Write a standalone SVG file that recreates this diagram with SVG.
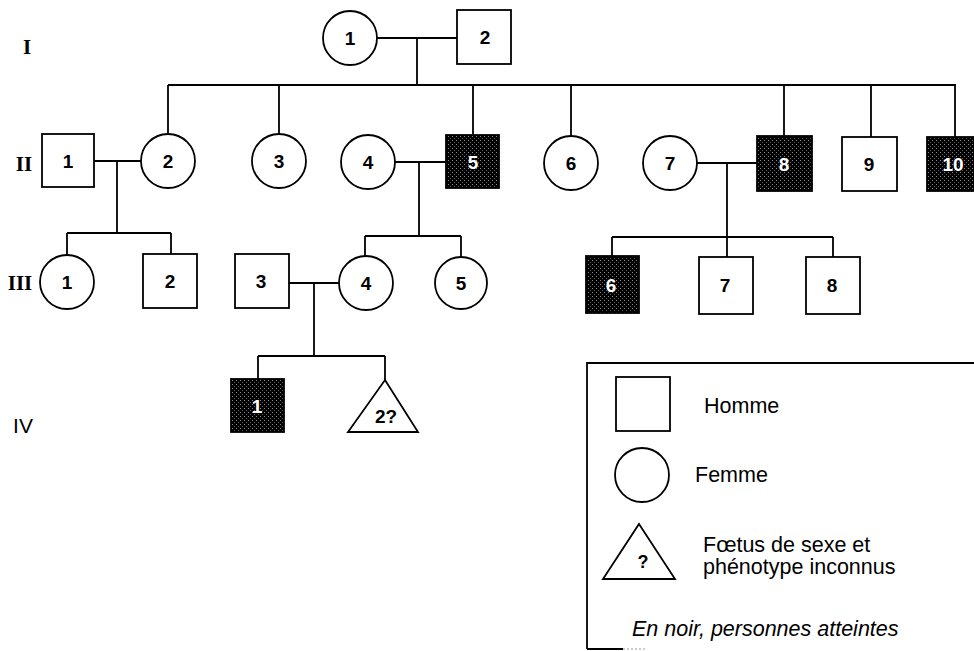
<svg xmlns="http://www.w3.org/2000/svg" width="974" height="651" viewBox="0 0 974 651">
<style>
.ln{stroke:#000;stroke-width:1.8;fill:none}
.nd{stroke:#000;stroke-width:1.8;fill:#fff}
.af{stroke:#000;stroke-width:1.8;fill:url(#stip)}
.num{font-family:"Liberation Sans",Arial,sans-serif;font-weight:bold;font-size:19px;text-anchor:middle;fill:#000}
.wn{fill:#fff}
.gen{font-family:"Liberation Serif","Times New Roman",serif;font-weight:bold;font-size:21px;text-anchor:middle;fill:#000}
.gens{font-family:"Liberation Sans",Arial,sans-serif;font-size:21px;text-anchor:middle;fill:#000}
.lg{font-family:"Liberation Sans",Arial,sans-serif;font-size:21.5px;fill:#000}
</style>
<defs>
<pattern id="stip" width="4" height="4" patternUnits="userSpaceOnUse">
<rect width="4" height="4" fill="#000"/>
<rect x="0" y="0" width="1" height="1" fill="#8a8a8a"/>
<rect x="2" y="2" width="1" height="1" fill="#5a5a5a"/>
</pattern>
</defs>
<rect width="974" height="651" fill="#fff"/>

<g id="generation-labels">
<text class="gen" x="27" y="54">I</text>
<text class="gen" x="24" y="171">II</text>
<text class="gen" x="20" y="290">III</text>
<text class="gens" x="23" y="433">IV</text>
</g>

<g id="connectors">
<path class="ln" d="M377 38H457M417 38V85M168 85H956M168 85V134M279 85V134M473 85V135M571 85V136M784 85V136M871 85V137M955 85V137"/>
<path class="ln" d="M94 161H141M117 161V233M67 233H171M67 233V255M171 233V254"/>
<path class="ln" d="M395 162H446M419 162V236M365 236H461M365 236V256M461 236V257"/>
<path class="ln" d="M697 163H757M727 163V237M612 237H833M612 237V256M727 237V257M833 237V257"/>
<path class="ln" d="M289 283H339M314 283V356M258 356H385M258 356V379M385 356V380"/>
</g>

<g id="I-1"><circle class="nd" cx="350" cy="38" r="27"/><text class="num" x="350" y="45">1</text></g>
<g id="I-2"><rect class="nd" x="457" y="10" width="54" height="54"/><text class="num" x="485" y="44">2</text></g>

<g id="II-1"><rect class="nd" x="42" y="134" width="52" height="53"/><text class="num" x="68" y="168">1</text></g>
<g id="II-2"><circle class="nd" cx="168" cy="161" r="27"/><text class="num" x="168" y="168">2</text></g>
<g id="II-3"><circle class="nd" cx="279" cy="161" r="27"/><text class="num" x="279" y="168">3</text></g>
<g id="II-4"><circle class="nd" cx="368" cy="162" r="27"/><text class="num" x="368" y="169">4</text></g>
<g id="II-5"><rect class="af" x="446" y="135" width="53" height="53"/><text class="num wn" x="473" y="169">5</text></g>
<g id="II-6"><circle class="nd" cx="571" cy="163" r="27"/><text class="num" x="571" y="170">6</text></g>
<g id="II-7"><circle class="nd" cx="670" cy="163" r="27"/><text class="num" x="670" y="170">7</text></g>
<g id="II-8"><rect class="af" x="757" y="136" width="55" height="55"/><text class="num wn" x="784" y="171">8</text></g>
<g id="II-9"><rect class="nd" x="842" y="137" width="55" height="54"/><text class="num" x="869" y="171">9</text></g>
<g id="II-10"><rect class="af" x="927" y="137" width="55" height="54"/><text class="num wn" x="953" y="171">10</text></g>

<g id="III-1"><circle class="nd" cx="67" cy="282" r="27"/><text class="num" x="67" y="289">1</text></g>
<g id="III-2"><rect class="nd" x="143" y="254" width="54" height="54"/><text class="num" x="170" y="288">2</text></g>
<g id="III-3"><rect class="nd" x="235" y="254" width="54" height="54"/><text class="num" x="261" y="288">3</text></g>
<g id="III-4"><circle class="nd" cx="366" cy="283" r="27"/><text class="num" x="366" y="290">4</text></g>
<g id="III-5"><circle class="nd" cx="461" cy="283" r="26"/><text class="num" x="461" y="290">5</text></g>
<g id="III-6"><rect class="af" x="586" y="256" width="53" height="57"/><text class="num wn" x="611" y="292">6</text></g>
<g id="III-7"><rect class="nd" x="699" y="257" width="54" height="57"/><text class="num" x="725" y="292">7</text></g>
<g id="III-8"><rect class="nd" x="806" y="257" width="54" height="57"/><text class="num" x="832" y="292">8</text></g>

<g id="IV-1"><rect class="af" x="231" y="379" width="53" height="53"/><text class="num wn" x="257" y="413">1</text></g>
<g id="IV-2"><polygon class="nd" points="385,380 418,432 348,432"/><text class="num" x="386" y="423">2?</text></g>

<g id="legend">
<path class="ln" d="M587 649V363H974M587 649H623"/>
<path d="M623 649H645" stroke="#999" stroke-width="1" stroke-dasharray="2 2"/>
<rect class="nd" x="616" y="377" width="54" height="54"/>
<text class="lg" x="704" y="413">Homme</text>
<circle class="nd" cx="642" cy="475" r="27"/>
<text class="lg" x="695" y="482">Femme</text>
<polygon class="nd" points="639,524 675,579 603,579"/>
<text class="num" x="643" y="568" style="font-size:18px">?</text>
<text class="lg" x="703" y="552">Fœtus de sexe et</text>
<text class="lg" x="703" y="574">phénotype inconnus</text>
<text class="lg" x="632" y="636" font-style="italic">En noir, personnes atteintes</text>
</g>
</svg>
